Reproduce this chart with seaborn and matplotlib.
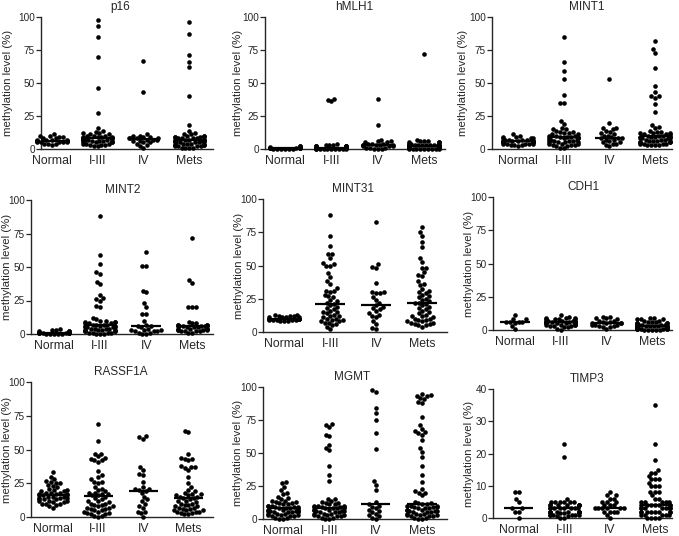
import numpy as np
import pandas as pd
import matplotlib
matplotlib.use('Agg')
import matplotlib.pyplot as plt
import seaborn as sns
from matplotlib.transforms import blended_transform_factory

sns.set_style('ticks')
plt.rcParams['font.family'] = ['Liberation Sans', 'DejaVu Sans']

groups = ['Normal', 'I-III', 'IV', 'Mets']

# methylation levels (%), one list per group
p16_normal = [3, 4, 4, 4, 5, 5, 5, 5, 5, 6, 6, 6, 6, 6, 6, 6, 6, 7, 7, 7, 7, 8, 8, 9, 9, 10, 10, 11]
p16_i_iii = [98, 93, 85, 70, 46, 27, 16, 14, 13, 12, 12, 11, 11, 10, 10, 10, 9, 9, 9, 9, 8, 8, 8, 8, 8, 8,
             7, 7, 7, 7, 7, 6, 6, 6, 6, 5, 5, 5, 5, 4, 4, 4, 3, 3, 3, 2, 2]
p16_iv = [67, 43, 11, 10, 10, 9, 9, 8, 8, 8, 8, 7, 7, 7, 6, 6, 5, 5, 4, 3, 2, 1]
p16_mets = [96, 87, 71, 66, 62, 40, 18, 14, 12, 11, 11, 10, 10, 10, 9, 9, 9, 9, 8, 8, 8, 8, 7, 7, 7, 7, 7,
            6, 6, 6, 6, 6, 6, 5, 5, 5, 5, 5, 4, 4, 4, 4, 3, 3, 3, 3, 2, 2, 2, 2, 1, 1, 1, 1]

hmlh1_normal = [0, 0, 0, 0, 0, 0, 0.5, 0.5, 0.5, 0.5, 1, 1, 1, 1.5, 2, 2]
hmlh1_i_iii = [38, 37, 36, 4, 3, 3, 3, 2, 2, 2, 2, 2, 2, 2, 1.5, 1.5, 1, 1, 1, 1, 1, 1, 1, 1, 1,
               0.5, 0.5, 0.5, 0.5, 0.5, 0, 0, 0, 0, 0, 0, 0, 0, 0, 0]
hmlh1_iv = [38, 18, 7, 6, 6, 5, 5, 4, 4, 4, 3, 3, 3, 3, 3, 2, 2, 2, 1, 1, 1, 0, 0, 0]
hmlh1_mets = [72, 7, 6, 6, 6, 5, 5, 5, 4, 4, 4, 4, 3, 3, 3, 3, 3, 3, 3, 2, 2, 2, 2, 2, 2, 2, 2, 2, 2,
              1.5, 1.5, 1.5, 1, 1, 1, 1, 1, 1, 1, 1, 0.5, 0.5, 0.5, 0, 0, 0, 0, 0, 0, 0, 0, 0]

mint1_normal = [2, 3, 3, 3, 4, 4, 4, 4, 4, 5, 5, 5, 5, 5, 5, 5, 6, 6, 6, 6, 6, 6, 6, 7, 7, 7, 7,
                8, 8, 8, 9, 9, 10, 11]
mint1_i_iii = [85, 66, 59, 53, 41, 35, 35, 21, 19, 16, 15, 15, 14, 13, 13, 12, 12, 11, 11, 10, 10, 10,
               9, 9, 9, 9, 8, 8, 8, 8, 7, 7, 7, 6, 6, 6, 5, 5, 5, 5, 4, 4, 4, 3, 3, 3, 2, 2, 1, 1]
mint1_iv = [53, 20, 16, 16, 15, 14, 13, 12, 11, 10, 10, 9, 8, 8, 8, 7, 7, 6, 5, 5, 4, 4, 3, 2]
mint1_mets = [82, 76, 73, 61, 48, 43, 40, 40, 39, 34, 28, 18, 17, 16, 14, 13, 13, 12, 12, 12, 11, 11, 11,
              10, 10, 10, 10, 9, 9, 9, 9, 8, 8, 8, 8, 7, 7, 7, 6, 6, 6, 6, 5, 5, 5, 5, 4, 4, 4, 4,
              3, 3, 3, 3]

mint2_normal = [0, 0, 0, 0, 0, 0.5, 0.5, 1, 1, 1, 1, 1, 1, 1.5, 2, 2, 2, 3, 3, 4]
mint2_i_iii = [88, 59, 52, 46, 45, 39, 37, 29, 27, 26, 25, 21, 20, 12, 11, 10, 10, 9, 9, 9, 8, 8, 8,
               7, 7, 7, 7, 6, 6, 6, 5, 5, 5, 5, 4, 4, 4, 4, 3, 3, 3, 3, 2, 2, 2, 2, 1, 1, 1, 1, 0, 0, 0]
mint2_iv = [61, 51, 51, 32, 31, 23, 20, 15, 15, 10, 7, 6, 6, 5, 4, 3, 3, 3, 2, 2, 2, 1, 1, 0, 0]
mint2_mets = [72, 40, 38, 20, 20, 20, 9, 8, 8, 7, 7, 7, 7, 6, 6, 6, 6, 6, 6, 5, 5, 5, 4, 4, 4, 4,
              3, 3, 3, 3, 2, 2, 2, 2, 1, 1]

mint31_normal = [8, 8, 8, 9, 9, 9, 9, 9, 10, 10, 10, 10, 10, 10, 10, 11, 11, 11, 11, 12, 12, 12, 13, 13]
mint31_i_iii = [88, 72, 65, 59, 59, 56, 52, 51, 50, 50, 44, 41, 38, 36, 33, 31, 31, 30, 28, 27, 26, 24,
                23, 22, 21, 20, 19, 18, 17, 16, 15, 15, 14, 13, 12, 12, 11, 10, 10, 9, 9, 8, 8, 7, 7,
                6, 5, 4, 2]
mint31_iv = [83, 51, 49, 48, 37, 30, 30, 29, 29, 26, 24, 22, 20, 19, 18, 17, 16, 14, 13, 12, 11, 8, 6, 3, 2]
mint31_mets = [79, 75, 72, 68, 64, 56, 53, 48, 48, 45, 43, 42, 38, 36, 35, 32, 31, 30, 29, 28, 27, 26,
               25, 24, 23, 22, 22, 21, 20, 19, 18, 17, 16, 15, 14, 13, 12, 12, 11, 10, 10, 9, 9, 8, 8,
               7, 7, 6, 6, 5, 5, 4]

cdh1_normal = [11, 8, 8, 6, 6, 6, 6, 5, 3, 1]
cdh1_i_iii = [11, 10, 9, 9, 9, 8, 8, 8, 8, 7, 7, 7, 7, 7, 6, 6, 6, 6, 6, 6, 5, 5, 5, 5, 5, 5,
              4, 4, 4, 4, 3, 3, 3, 2, 2, 1, 0]
cdh1_iv = [10, 10, 9, 9, 8, 7, 7, 6, 6, 5, 5, 5, 5, 4, 4, 4, 3, 3, 2, 2, 1]
cdh1_mets = [9, 9, 8, 8, 8, 7, 7, 6, 6, 6, 5, 5, 5, 5, 4, 4, 4, 4, 4, 3, 3, 3, 3, 3, 3, 3, 3,
             2, 2, 2, 2, 2, 2, 2, 2, 2, 1, 1, 1, 1, 1, 1, 1, 0, 0, 0, 0, 0]

rassf1a_normal = [33, 30, 28, 27, 26, 25, 25, 24, 23, 22, 21, 20, 20, 19, 19, 18, 18, 18, 17, 17, 17,
                  16, 16, 16, 15, 15, 15, 14, 14, 14, 13, 13, 13, 12, 12, 12, 11, 11, 10, 10, 10, 9, 8, 7]
rassf1a_i_iii = [69, 56, 47, 47, 45, 44, 43, 42, 42, 41, 34, 31, 30, 28, 26, 26, 25, 22, 21, 20, 19,
                 18, 18, 17, 17, 16, 16, 15, 14, 13, 12, 12, 11, 10, 10, 9, 9, 8, 8, 7, 7, 6, 6, 5,
                 5, 4, 4, 3, 3, 2, 2, 1, 1, 0]
rassf1a_iv = [60, 59, 58, 37, 35, 32, 31, 26, 22, 21, 21, 20, 19, 18, 15, 13, 12, 10, 8, 7, 4, 4, 3, 0]
rassf1a_mets = [64, 63, 47, 44, 43, 43, 42, 38, 37, 37, 36, 35, 30, 25, 22, 20, 19, 18, 17, 17, 16, 16,
                15, 15, 14, 14, 13, 12, 12, 11, 10, 10, 9, 9, 8, 8, 7, 7, 6, 6, 5, 5, 5, 4, 4, 4,
                3, 3, 2, 2]

mgmt_normal = [28, 27, 24, 22, 20, 19, 17, 16, 15, 14, 14, 13, 13, 12, 12, 11, 11, 10, 10, 10, 9, 9, 9,
               8, 8, 8, 8, 7, 7, 7, 6, 6, 6, 6, 5, 5, 5, 5, 4, 4, 4, 3, 3, 3, 2, 2, 2, 1, 1, 0, 0]
mgmt_i_iii = [72, 71, 70, 64, 63, 56, 54, 52, 40, 33, 29, 15, 15, 14, 13, 12, 12, 11, 11, 10, 10, 10,
              9, 9, 9, 9, 8, 8, 8, 8, 7, 7, 7, 6, 6, 6, 5, 5, 5, 4, 4, 4, 3, 3, 3, 2, 2, 2, 1, 1, 0, 0]
mgmt_iv = [98, 96, 84, 80, 75, 65, 53, 29, 26, 22, 13, 11, 10, 9, 8, 7, 6, 5, 4, 3, 2, 1, 0]
mgmt_mets = [95, 94, 93, 93, 92, 91, 89, 88, 77, 71, 68, 67, 66, 65, 64, 60, 54, 51, 47, 40, 33, 28, 23,
             21, 20, 20, 18, 13, 12, 12, 11, 11, 10, 10, 10, 9, 9, 9, 8, 8, 8, 7, 7, 7, 6, 6, 6,
             5, 5, 5, 4, 4, 4, 3, 3, 3, 2, 2, 2, 1, 1, 0, 0]

timp3_normal = [8, 8, 6, 5, 3, 3, 2, 2, 0]
timp3_i_iii = [23, 19, 6, 5, 5, 5, 5, 5, 5, 4, 4, 4, 4, 4, 4, 4, 3, 3, 3, 3, 3, 3, 3, 3,
               2, 2, 2, 2, 2, 2, 2, 2, 2, 1.5, 1.5, 1, 1, 1, 1, 1, 1, 0.5, 0.5, 0, 0]
timp3_iv = [8, 7, 7, 6, 6, 5, 5, 5, 4, 4, 4, 3, 3, 3, 3, 3, 3, 2, 2, 2, 2, 1, 0]
timp3_mets = [35, 23, 18, 15, 14, 14, 13, 12, 12, 12, 11, 10, 10, 10, 8, 8, 8, 7, 6, 6, 5, 5, 5, 5, 5,
              4, 4, 4, 4, 4, 4, 4, 3, 3, 3, 3, 3, 3, 3, 3, 2, 2, 2, 2, 2, 2, 2, 2, 1, 1, 1, 1, 1,
              0, 0, 0, 0]

genes = ['p16', 'hMLH1', 'MINT1', 'MINT2', 'MINT31', 'CDH1', 'RASSF1A', 'MGMT', 'TIMP3']
values = [
    [p16_normal, p16_i_iii, p16_iv, p16_mets],
    [hmlh1_normal, hmlh1_i_iii, hmlh1_iv, hmlh1_mets],
    [mint1_normal, mint1_i_iii, mint1_iv, mint1_mets],
    [mint2_normal, mint2_i_iii, mint2_iv, mint2_mets],
    [mint31_normal, mint31_i_iii, mint31_iv, mint31_mets],
    [cdh1_normal, cdh1_i_iii, cdh1_iv, cdh1_mets],
    [rassf1a_normal, rassf1a_i_iii, rassf1a_iv, rassf1a_mets],
    [mgmt_normal, mgmt_i_iii, mgmt_iv, mgmt_mets],
    [timp3_normal, timp3_i_iii, timp3_iv, timp3_mets],
]
ymaxes = [100, 100, 100, 100, 100, 100, 100, 100, 40]

# panel boxes in pixels: left, right, top, bottom, x limits, y-label centre
W, H = 679, 536
boxes = [
    (41, 213, 17, 149, -0.24, 3.52, 8),
    (265, 445, 17, 149, -0.43, 3.45, 238),
    (492, 672, 17, 149, -0.57, 3.37, 463),
    (31, 213, 200, 334, -0.50, 3.45, 7),
    (263, 447, 199, 332, -0.46, 3.54, 239),
    (493, 672, 197, 330, -0.48, 3.44, 469),
    (31, 213, 382, 517, -0.49, 3.55, 7),
    (263, 447, 387, 519, -0.43, 3.54, 238),
    (493, 672, 389, 518, -0.57, 3.37, 469),
]

fig = plt.figure(figsize=(W / 100, H / 100), dpi=100)
axes = []

for gene, vals, ymax, (l, r, t, b, xlo, xhi, lx) in zip(genes, values, ymaxes, boxes):
    ax = fig.add_axes([l / W, 1 - b / H, (r - l) / W, (b - t) / H])
    axes.append(ax)
    df = pd.DataFrame({
        'group': np.repeat(groups, [len(v) for v in vals]),
        'value': np.concatenate(vals),
    })
    sns.swarmplot(data=df, x='group', y='value', order=groups, color='black',
                  size=3.3, ax=ax, warn_thresh=1, clip_on=False)
    # median line per group
    med = df.groupby('group')['value'].median().reindex(groups)
    pos = np.arange(len(groups))
    ax.hlines(med.values, pos - 0.32, pos + 0.32, color='black', lw=1.6, zorder=5)

    ax.set_xlim(xlo, xhi)
    ax.set_ylim(0, ymax)
    ax.set_yticks(np.linspace(0, ymax, 5))
    ax.set_xlabel('')
    ax.set_ylabel('methylation level (%)', fontsize=8.2)
    ax.yaxis.set_label_coords((lx + 5 - l) / (r - l), 0.5)
    ax.tick_params(axis='x', length=0, labelsize=8.8, pad=4)
    ax.tick_params(axis='y', length=3.5, width=0.9, labelsize=7.2, pad=1)
    sns.despine(ax=ax)
    for s in ['left', 'bottom']:
        ax.spines[s].set_linewidth(1.0)
    trans = blended_transform_factory(ax.transData, ax.transAxes)
    ax.text(1.5, 1.03, gene, transform=trans, ha='center', va='bottom', fontsize=8.5)

# let seaborn place the swarms once, then squeeze them sideways (Prism-like overlap)
fig.canvas.draw()
for ax in axes:
    for coll in ax.collections:
        if 'draw' in coll.__dict__:
            del coll.draw
            off = np.asarray(coll.get_offsets()).copy()
            cx = np.round(off[:, 0])
            off[:, 0] = cx + (off[:, 0] - cx) * 0.8
            coll.set_offsets(off)

fig.savefig('out.png', dpi=100)
